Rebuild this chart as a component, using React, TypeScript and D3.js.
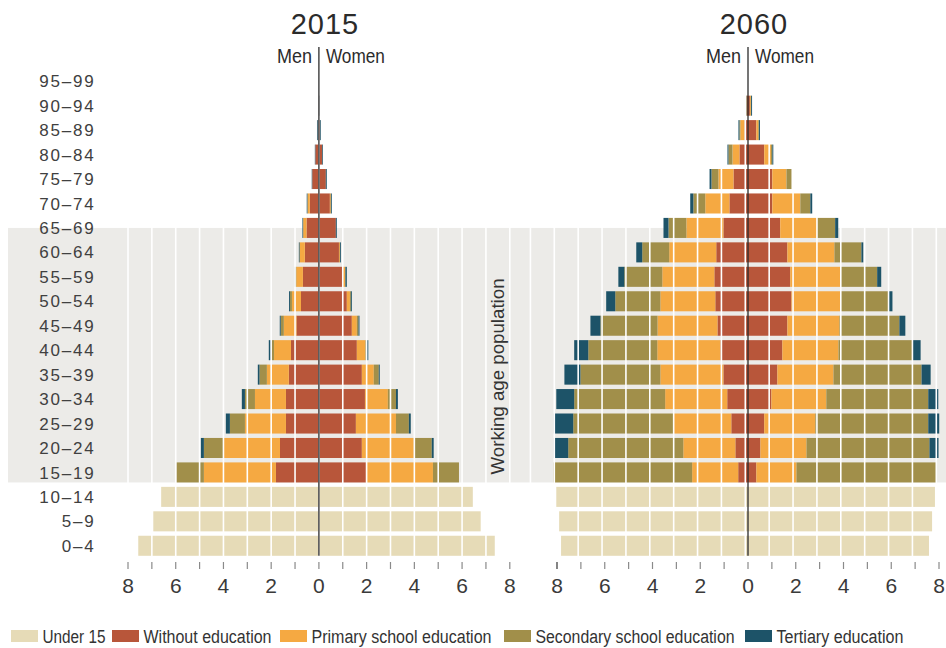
import React, { useEffect, useRef } from 'react'
import * as d3 from 'd3'

// age groups, youngest first
const ageGroups = [
  '0–4', '5–9', '10–14', '15–19', '20–24', '25–29', '30–34', '35–39', '40–44', '45–49',
  '50–54', '55–59', '60–64', '65–69', '70–74', '75–79', '80–84', '85–89', '90–94', '95–99'
]

// population in millions; under-15 rows (0–4, 5–9, 10–14)
const under15Men2015 = [7.57, 6.94, 6.61]
const under15Women2015 = [7.37, 6.78, 6.45]
const under15Men2060 = [7.83, 7.91, 8.03]
const under15Women2060 = [7.58, 7.71, 7.83]

// 15–19 up to 95–99
const noEduMen2015 = [1.80, 1.63, 1.38, 1.38, 1.26, 1.17, 0.94, 0.75, 0.67, 0.59, 0.52, 0.38, 0.28, 0.15, 0.05, 0.02, 0]
const primaryMen2015 = [3.02, 2.35, 1.72, 1.30, 0.92, 0.71, 0.53, 0.38, 0.28, 0.22, 0.14, 0.10, 0, 0, 0, 0, 0]
const secondaryMen2015 = [1.15, 0.84, 0.63, 0.42, 0.31, 0.14, 0.13, 0.08, 0.04, 0, 0, 0, 0, 0, 0, 0, 0]
const tertiaryMen2015 = [0, 0.13, 0.17, 0.13, 0.07, 0.08, 0.04, 0.04, 0.02, 0.03, 0.03, 0.03, 0.02, 0.02, 0.03, 0.01, 0]

const noEduWomen2015 = [1.97, 1.80, 1.55, 1.93, 1.80, 1.59, 1.38, 1.17, 0.98, 0.84, 0.71, 0.46, 0.29, 0.14, 0.05, 0.02, 0]
const primaryWomen2015 = [2.81, 2.18, 1.68, 0.96, 0.50, 0.36, 0.21, 0.13, 0.13, 0.04, 0, 0.04, 0, 0, 0, 0, 0]
const secondaryWomen2015 = [1.09, 0.75, 0.54, 0.34, 0.21, 0.04, 0.07, 0.04, 0, 0, 0, 0, 0, 0, 0, 0, 0]
const tertiaryWomen2015 = [0, 0.08, 0.08, 0.08, 0.04, 0.08, 0.04, 0.04, 0.06, 0.04, 0.04, 0.04, 0.04, 0.03, 0.03, 0.02, 0]

const noEduMen2060 = [0.41, 0.53, 0.70, 0.87, 1.03, 1.16, 1.28, 1.37, 1.41, 1.33, 1.03, 0.78, 0.61, 0.36, 0.15, 0.05, 0]
const primaryMen2060 = [1.93, 2.18, 2.43, 2.60, 2.64, 2.64, 2.51, 2.30, 2.18, 1.97, 1.55, 1.01, 0.63, 0.29, 0.17, 0.02, 0]
const secondaryMen2060 = [5.80, 4.82, 4.19, 3.81, 3.35, 2.89, 2.39, 1.89, 1.59, 1.13, 0.75, 0.50, 0.29, 0.17, 0.04, 0, 0]
const tertiaryMen2060 = [0, 0.60, 0.81, 0.75, 0.67, 0.59, 0.42, 0.38, 0.25, 0.25, 0.21, 0.13, 0.08, 0.04, 0.04, 0.04, 0]

const noEduWomen2060 = [0.35, 0.52, 0.68, 0.98, 1.23, 1.44, 1.65, 1.82, 1.77, 1.65, 1.35, 1.02, 1.02, 0.68, 0.35, 0.08, 0]
const primaryWomen2060 = [1.68, 1.93, 2.14, 2.30, 2.35, 2.35, 2.18, 2.05, 2.09, 1.97, 1.55, 1.17, 0.59, 0.28, 0.08, 0.04, 0]
const secondaryWomen2060 = [5.87, 5.15, 4.73, 4.27, 3.69, 3.10, 2.51, 2.01, 1.55, 1.13, 0.75, 0.42, 0.21, 0.06, 0.03, 0.01, 0]
const tertiaryWomen2060 = [0, 0.38, 0.46, 0.42, 0.38, 0.34, 0.25, 0.17, 0.17, 0.08, 0.13, 0.08, 0, 0.04, 0.04, 0.04, 0]

const categories = ['under15', 'noEdu', 'primary', 'secondary', 'tertiary']
const categoryLabels = ['Under 15', 'Without education', 'Primary school education', 'Secondary school education', 'Tertiary education']
const categoryColors = ['#e6dbb7', '#b8563a', '#f5a942', '#a18f4a', '#1d5368']

const tickValues = d3.range(-8, 9)

const buildRows = (under15: number[], noEdu: number[], primary: number[], secondary: number[], tertiary: number[]) =>
  ageGroups.map((age, i) => {
    const a = i - under15.length
    return {
      age,
      under15: i < under15.length ? under15[i] : 0,
      noEdu: a >= 0 ? noEdu[a] : 0,
      primary: a >= 0 ? primary[a] : 0,
      secondary: a >= 0 ? secondary[a] : 0,
      tertiary: a >= 0 ? tertiary[a] : 0
    }
  })

const panels = [
  {
    year: '2015',
    range: [128, 509.8],
    gridShift: 0,
    men: buildRows(under15Men2015, noEduMen2015, primaryMen2015, secondaryMen2015, tertiaryMen2015),
    women: buildRows(under15Women2015, noEduWomen2015, primaryWomen2015, secondaryWomen2015, tertiaryWomen2015)
  },
  {
    year: '2060',
    range: [557, 939],
    gridShift: -2.7,
    men: buildRows(under15Men2060, noEduMen2060, primaryMen2060, secondaryMen2060, tertiaryMen2060),
    women: buildRows(under15Women2060, noEduWomen2060, primaryWomen2060, secondaryWomen2060, tertiaryWomen2060)
  }
]

const sans = '"Liberation Sans", Arial, Helvetica, sans-serif'

const EducationPyramids: React.FC = () => {
  const svgRef = useRef<SVGSVGElement>(null)

  useEffect(() => {
    if (!svgRef.current) return
    const svg = d3.select(svgRef.current)
    svg.selectAll('*').remove()

    const width = 946
    const height = 648

    const y = d3.scaleBand<string>()
      .domain([...ageGroups].reverse())
      .range([69, 558])
      .paddingInner(0.18)
      .paddingOuter(0.09)

    const bw = y.bandwidth()
    const stack = d3.stack<any>().keys(categories)

    // working age band (15–64)
    const bandTop = (y('65–69') as number) + bw / 2
    const bandBottom = (y('15–19') as number) + bw
    svg.append('rect')
      .attr('x', 8)
      .attr('y', bandTop)
      .attr('width', width - 8)
      .attr('height', bandBottom - bandTop)
      .attr('fill', '#ecebe8')

    panels.forEach(panel => {
      const x = d3.scaleLinear().domain([-8, 8]).range(panel.range)
      const g = svg.append('g')

      const sides: [any[], number][] = [[panel.men, -1], [panel.women, 1]]
      sides.forEach(([rows, sign]) => {
        const series = stack(rows)
        series.forEach((s, ci) => {
          g.append('g')
            .attr('fill', categoryColors[ci])
            .selectAll('rect')
            .data(s.filter(d => d[1] - d[0] > 0))
            .enter()
            .append('rect')
            .attr('x', d => Math.min(x(sign * d[0]), x(sign * d[1])))
            .attr('width', d => Math.abs(x(sign * d[1]) - x(sign * d[0])))
            .attr('y', d => y(d.data.age) as number)
            .attr('height', bw)
        })
      })

      // white grid lines over the bars
      const gridValues = panel.gridShift ? d3.range(-9, 9) : d3.range(-8, 9)
      g.append('g')
        .selectAll('line')
        .data(gridValues)
        .enter()
        .append('line')
        .attr('x1', d => x(d) + panel.gridShift)
        .attr('x2', d => x(d) + panel.gridShift)
        .attr('y1', 60)
        .attr('y2', 558)
        .attr('stroke', '#fff')
        .attr('stroke-width', 1.6)

      // centre line
      g.append('line')
        .attr('x1', x(0))
        .attr('x2', x(0))
        .attr('y1', 47)
        .attr('y2', (y('0–4') as number) + bw)
        .attr('stroke', '#2b2b2b')
        .attr('stroke-width', 1.3)

      // ticks
      g.append('g')
        .selectAll('line')
        .data(tickValues)
        .enter()
        .append('line')
        .attr('x1', d => x(d))
        .attr('x2', d => x(d))
        .attr('y1', 562)
        .attr('y2', 569)
        .attr('stroke', d => (d === -8 && panel.gridShift ? '#333' : '#8a8a8a'))
        .attr('stroke-width', 1.2)

      g.append('g')
        .selectAll('text')
        .data(tickValues.filter(d => d % 2 === 0))
        .enter()
        .append('text')
        .attr('x', d => x(d))
        .attr('y', 593)
        .attr('text-anchor', 'middle')
        .style('font-family', sans)
        .style('font-size', '21px')
        .attr('fill', '#3a3a3a')
        .text(d => Math.abs(d))

      // title and sex labels
      g.append('text')
        .attr('x', x(0) + 6)
        .attr('y', 34)
        .attr('text-anchor', 'middle')
        .style('font-family', sans)
        .style('font-size', '29px')
        .style('letter-spacing', '1px')
        .attr('fill', '#2b2b2b')
        .text(panel.year)

      g.append('text')
        .attr('x', x(0) - 7)
        .attr('y', 63)
        .attr('text-anchor', 'end')
        .attr('textLength', 35)
        .attr('lengthAdjust', 'spacingAndGlyphs')
        .style('font-family', sans)
        .style('font-size', '21px')
        .attr('fill', '#2b2b2b')
        .text('Men')

      g.append('text')
        .attr('x', x(0) + 7)
        .attr('y', 63)
        .attr('text-anchor', 'start')
        .attr('textLength', 59)
        .attr('lengthAdjust', 'spacingAndGlyphs')
        .style('font-family', sans)
        .style('font-size', '21px')
        .attr('fill', '#2b2b2b')
        .text('Women')
    })

    // age labels
    svg.append('g')
      .selectAll('text')
      .data(ageGroups)
      .enter()
      .append('text')
      .attr('x', 95.5)
      .attr('y', d => (y(d) as number) + bw / 2)
      .attr('dy', '0.36em')
      .attr('text-anchor', 'end')
      .style('font-family', sans)
      .style('font-size', '17px')
      .style('letter-spacing', '1.8px')
      .attr('fill', '#404040')
      .text(d => d)

    svg.append('text')
      .attr('transform', `translate(504, ${bandBottom - 8}) rotate(-90)`)
      .attr('text-anchor', 'start')
      .attr('textLength', 196)
      .attr('lengthAdjust', 'spacingAndGlyphs')
      .style('font-family', sans)
      .style('font-size', '19px')
      .attr('fill', '#333')
      .text('Working age population')

    // legend
    const legendX = [11, 112, 280, 504, 745]
    const legendWidths = [63, 128, 180, 199, 127]
    const legend = svg.append('g')
      .selectAll('g')
      .data(categoryLabels)
      .enter()
      .append('g')
      .attr('transform', (d, i) => `translate(${legendX[i]}, 630)`)

    legend.append('rect')
      .attr('width', 27)
      .attr('height', 12)
      .attr('fill', (d, i) => categoryColors[i])

    legend.append('text')
      .attr('x', 31.5)
      .attr('y', 12.5)
      .attr('textLength', (d, i) => legendWidths[i])
      .attr('lengthAdjust', 'spacingAndGlyphs')
      .style('font-family', sans)
      .style('font-size', '18px')
      .attr('fill', '#333')
      .text(d => d)

    svg.attr('width', width).attr('height', height)
  }, [])

  return (
    <svg
      ref={svgRef}
      width={946}
      height={648}
      style={{ position: 'absolute', left: 0, top: 0, background: '#fff' }}
    />
  )
}

export default function App() {
  return <EducationPyramids />
}
